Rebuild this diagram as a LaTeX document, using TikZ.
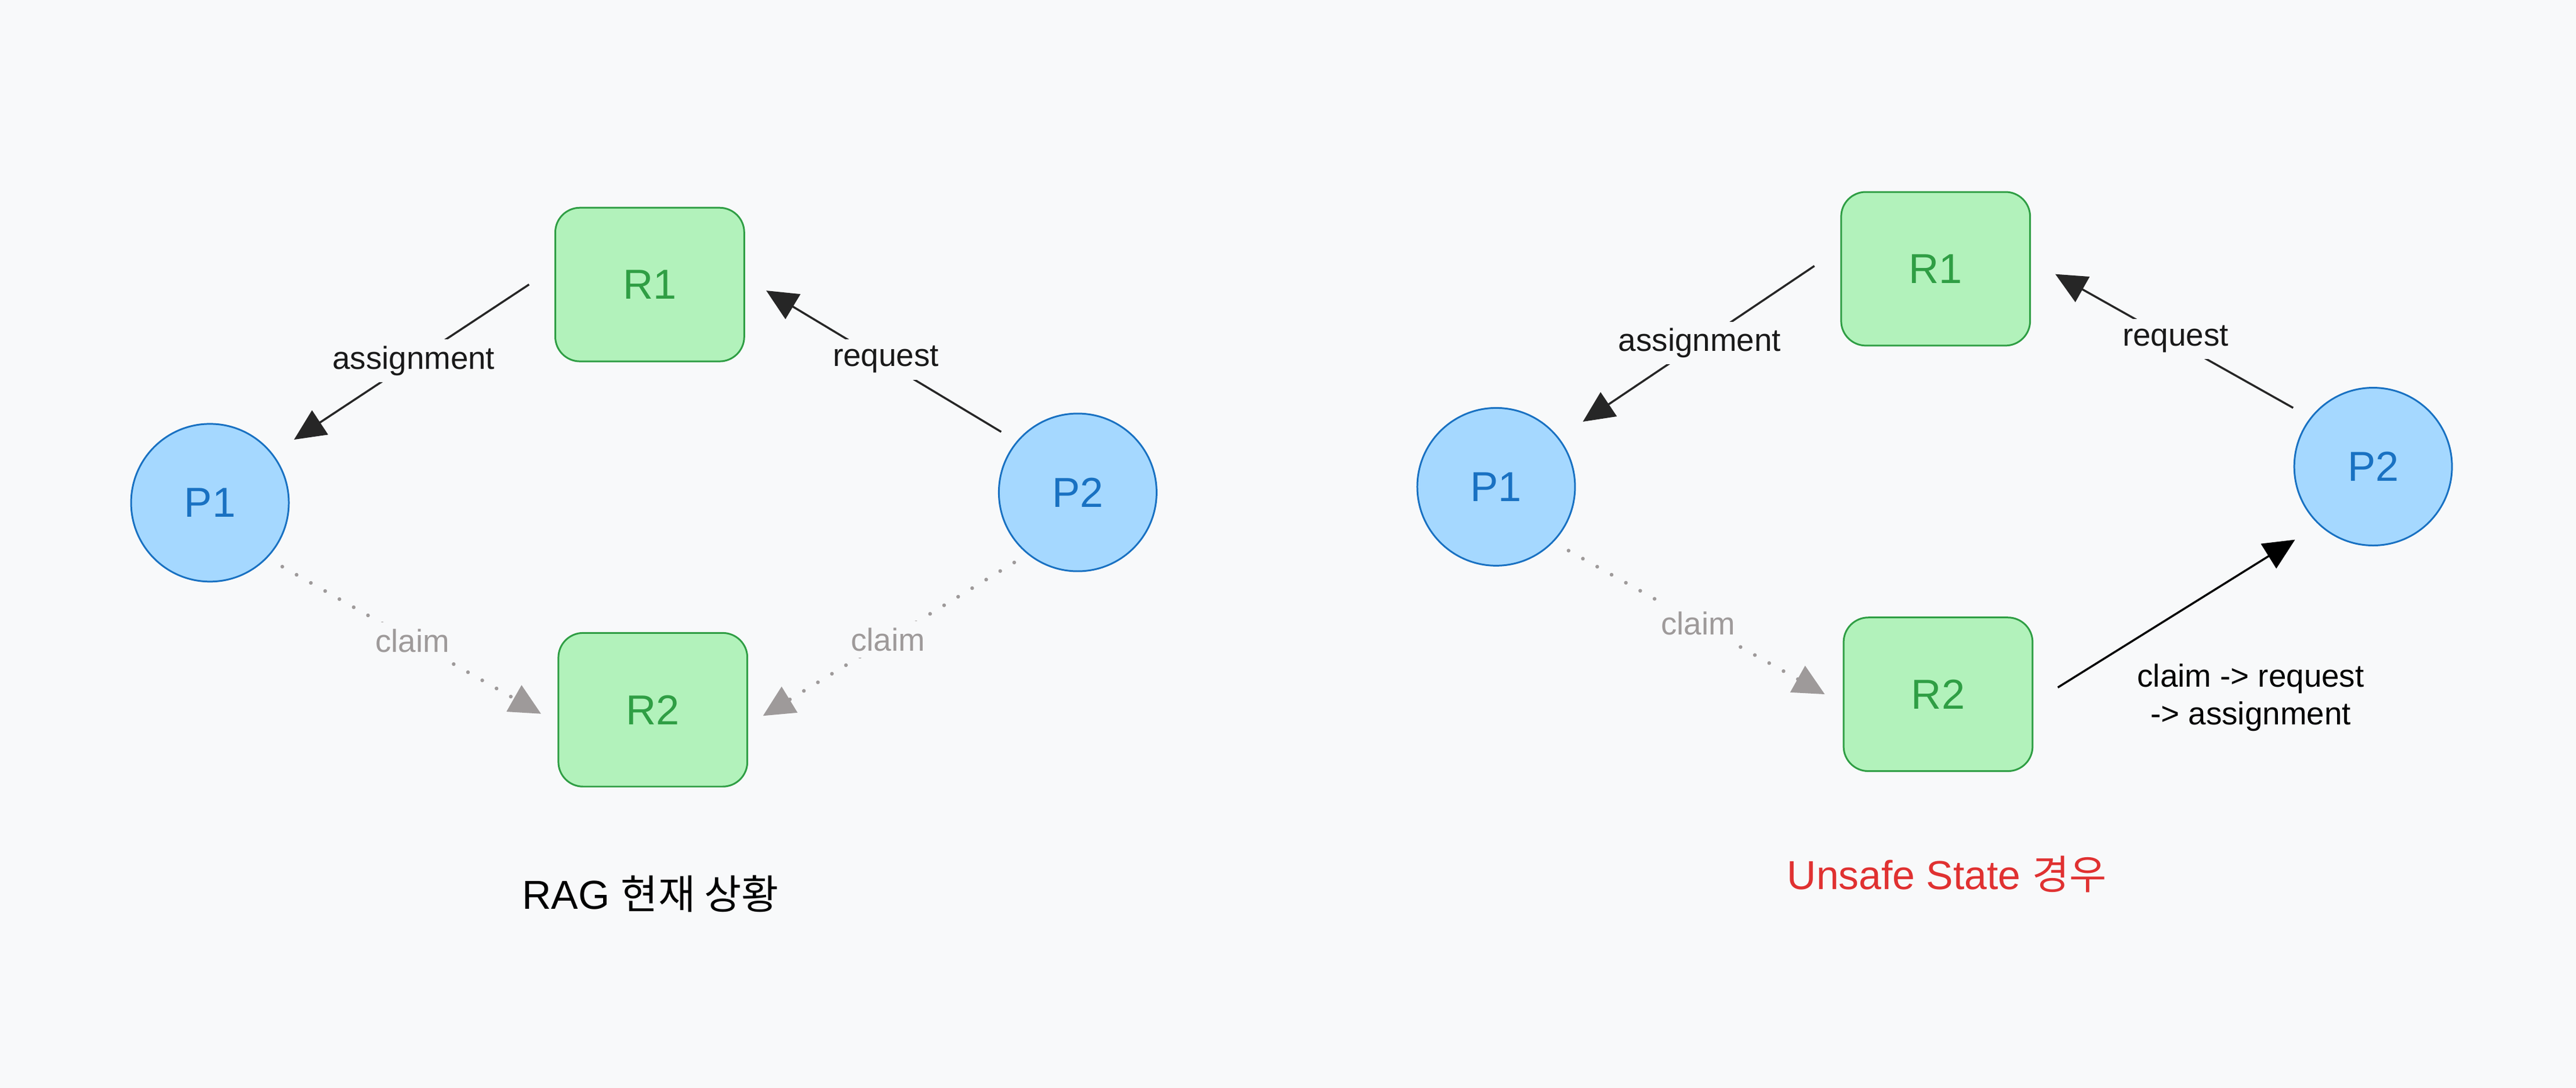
\documentclass[tikz,border=0pt]{standalone}
\usepackage{fontspec}
\setmainfont{Liberation Sans}
\newfontfamily\krfont{Noto Sans CJK KR}
\usepackage{tikz}
\usetikzlibrary{arrows.meta,positioning,calc}

\definecolor{bgcol}{HTML}{F8F9FA}
\definecolor{resfill}{HTML}{B2F2BB}
\definecolor{resline}{HTML}{2F9E44}
\definecolor{procfill}{HTML}{A5D8FF}
\definecolor{procline}{HTML}{1971C2}
\definecolor{claimgray}{HTML}{9E9A9A}
\definecolor{titlered}{HTML}{E03131}

\tikzset{
  res/.style={rectangle, rounded corners=3mm, draw=resline, fill=resfill, text=resline,
    minimum width=23mm, minimum height=18.7mm, line width=0.6pt, font=\fontsize{14.5}{17}\selectfont},
  proc/.style={circle, draw=procline, fill=procfill, text=procline, inner sep=0pt,
    minimum size=19.2mm, line width=0.6pt, font=\fontsize{14.5}{17}\selectfont},
  lbl/.style={fill=bgcol, inner sep=0.8mm, text=black!90, font=\fontsize{11}{13}\selectfont},
  edge/.style={draw=black!85, line width=0.7pt, -{Triangle[length=3.8mm,width=3.5mm]}},
  claimedge/.style={draw=claimgray, line width=1.3pt, line cap=round, dash pattern=on 0pt off 2mm,
    -{Triangle[length=3.8mm,width=3.6mm]}},
  claimlbl/.style={lbl, text=claimgray},
  title/.style={font=\fontsize{14}{17}\selectfont},
}

\begin{document}
\begin{tikzpicture}[x=0.2mm, y=-0.2mm]
    % Background
    \fill[bgcol] (0,0) rectangle (1568,662.2);
    \useasboundingbox (0,0) rectangle (1568,662.2);

    % Left: RAG
    \node[res]  (r1a) at (395.5,173.2) {R1};
    \node[res]  (r2a) at (397.4,432)   {R2};
    \node[proc] (p1a) at (127.8,306)   {P1};
    \node[proc] (p2a) at (656,299.7)   {P2};

    \draw[edge, shorten <=3.7mm, shorten >=3.1mm] (r1a.170) -- (p1a.38)
        node[lbl, midway] {assignment};
    \draw[edge, shorten <=2.2mm, shorten >=3mm] (p2a.140) -- (r1a.4)
        node[lbl, midway, xshift=0.6mm] {request};
    \draw[claimedge, shorten <=2.1mm, shorten >=2.3mm] (p1a.-44) -- (r2a.188)
        node[claimlbl, midway] {claim};
    \draw[claimedge, shorten <=1.9mm, shorten >=2.1mm] (p2a.231) -- (r2a.-9)
        node[claimlbl, midway] {claim};

    \node[title] (ragTitle) at (396,544) {RAG {\krfont 현재 상황}};

    % Right: unsafe state
    \node[res]  (r1b) at (1178.2,163.6) {R1};
    \node[res]  (r2b) at (1179.7,422.6) {R2};
    \node[proc] (p1b) at (910.7,296.3)  {P1};
    \node[proc] (p2b) at (1444.5,284)   {P2};

    \draw[edge, shorten <=3.8mm, shorten >=3.5mm] (r1b.168) -- (p1b.38)
        node[lbl, midway] {assignment};
    \draw[edge, shorten <=2.4mm, shorten >=3.4mm] (p2b.142) -- (r1b.5)
        node[lbl, midway, xshift=0.6mm] {request};
    \draw[claimedge, shorten <=2.1mm, shorten >=2.5mm] (p1b.-44) -- (r2b.186)
        node[claimlbl, midway] {claim};
    \draw[edge, draw=black, shorten <=3.5mm, shorten >=3.4mm] (r2b.-5) -- (p2b.227);
    \node[lbl, fill=none, align=center, text=black] (chainLbl) at (1370,424.5)
        {claim -> request\\-> assignment};

    \node[title, text=titlered] (unsafeTitle) at (1185,532) {Unsafe State {\krfont 경우}};
\end{tikzpicture}
\end{document}
